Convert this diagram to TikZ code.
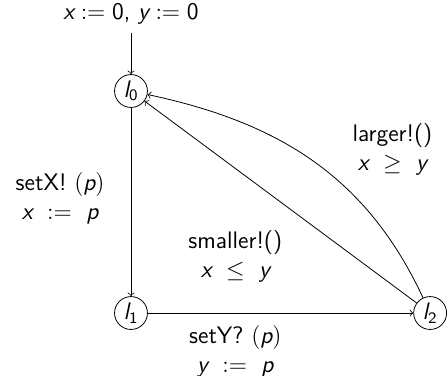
\documentclass[tikz,border=0pt,12pt]{standalone}
\renewcommand{\familydefault}{\sfdefault}
\usepackage{amsmath}
\usepackage{amssymb}
\newcommand{\sv}[1]{\text{\sffamily\itshape #1}}
\newcommand{\sn}[1]{\text{\sffamily #1}}

\tikzset{
  loc/.style={draw, circle, minimum size=0.58cm, inner sep=0pt},
  trans/.style={->, >=to}
}

\begin{document}
\begin{tikzpicture}
                \useasboundingbox (0,0) rectangle (7.9,-6.615);

                % Locations
                \node[loc] (l0) at (2.31,-1.605) {$\sv{l}_{\sn{0}}$};
                \node[loc] (l1) at (2.31,-5.52) {$\sv{l}_{\sn{1}}$};
                \node[loc] (l2) at (7.585,-5.52) {$\sv{l}_{\sn{2}}$};

                % Initial
                \node (init) at (2.31,-0.25) {$\sv{x} := \sn{0}$, $\sv{y} := \sn{0}$};
                \draw[trans] (init) -- (l0);

                % Transitions
                \draw[trans] (l0) -- (l1);
                \node[align=center] at (1.06,-3.5) {setX! $(\sv{p})$\\ $\sv{x}\ :=\ \sv{p}$};

                \draw[trans] (l1) -- (l2);
                \node[align=center] at (4.15,-6.19) {setY? $(\sv{p})$\\ $\sv{y}\ :=\ \sv{p}$};

                \draw[trans] (l2) -- (l0);
                \node[align=center] at (4.15,-4.52) {smaller!()\\ $\sv{x}\ \leq\ \sv{y}$};

                \draw[trans] (l2) to[out=115,in=-12] (l0);
                \node[align=center] at (6.92,-2.64) {larger!()\\ $\sv{x}\ \geq\ \sv{y}$};
            \end{tikzpicture}
\end{document}
